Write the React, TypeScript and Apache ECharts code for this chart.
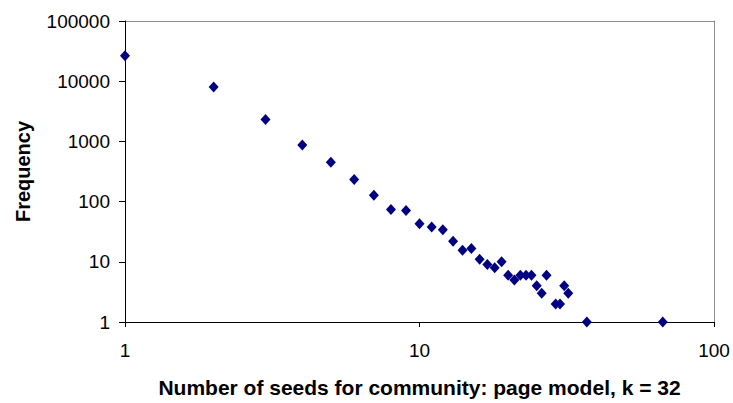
import React, { useEffect, useRef } from "react";
import * as echarts from "echarts";

const seeds = [1, 2, 3, 4, 5, 6, 7, 8, 9, 10, 11, 12, 13, 14, 15, 16, 17, 18, 19, 20, 21, 22, 23, 24, 25, 26, 27, 29, 30, 31, 32, 37, 67];
const frequency = [26500, 8000, 2300, 870, 450, 232, 128, 74, 71, 43, 38, 34, 22, 15.5, 16.7, 11, 9, 8, 10, 6, 5, 6, 6, 6, 4, 3, 6, 2, 2, 4, 3, 1, 1];

const xTitle = "Number of seeds for community: page model, k = 32";
const yTitle = "Frequency";

export default function App() {
  const ref = useRef<HTMLDivElement>(null);
  useEffect(() => {
    const chart = echarts.init(ref.current!, null, { renderer: "svg" });
    const data = seeds.map((s, i) => [s, frequency[i]]);
    const hiddenAxisBase = {
      axisTick: { show: false },
      axisLabel: { show: false },
      splitLine: { show: false },
      axisLine: { show: true, lineStyle: { color: "#8c8c8c", width: 1 } },
    };
    chart.setOption({
      animation: false,
      textStyle: { fontFamily: "Liberation Sans, Arial, sans-serif" },
      grid: { left: 125, right: 19, top: 21, bottom: 78, show: false },
      xAxis: [
        {
          type: "log",
          logBase: 10,
          min: 1,
          max: 100,
          name: xTitle,
          nameLocation: "middle",
          nameGap: 55,
          nameTextStyle: { fontSize: 21, fontWeight: "bold", color: "#000" },
          axisLine: { show: true, lineStyle: { color: "#000", width: 1 } },
          axisTick: { show: true, inside: false, length: 5, lineStyle: { color: "#000" } },
          axisLabel: { fontSize: 19, color: "#000", margin: 19, formatter: (v: number) => String(v) },
          splitLine: { show: false },
          z: 3,
        },
        { type: "log", logBase: 10, min: 1, max: 100, position: "top", ...hiddenAxisBase },
      ],
      yAxis: [
        {
          type: "log",
          logBase: 10,
          min: 1,
          max: 100000,
          name: yTitle,
          nameLocation: "middle",
          nameGap: 92,
          nameRotate: 90,
          nameTextStyle: { fontSize: 20, fontWeight: "bold", color: "#000" },
          axisLine: { show: true, lineStyle: { color: "#000", width: 1 } },
          axisTick: { show: true, inside: false, length: 6, lineStyle: { color: "#000" } },
          axisLabel: { fontSize: 19, color: "#000", margin: 15, formatter: (v: number) => String(v) },
          splitLine: { show: false },
          z: 3,
        },
        { type: "log", logBase: 10, min: 1, max: 100000, position: "right", ...hiddenAxisBase },
      ],
      series: [
        {
          type: "scatter",
          data,
          symbol: "diamond",
          symbolSize: [10, 11],
          itemStyle: { color: "#000080", opacity: 1 },
          z: 5,
        },
      ],
    });
    return () => chart.dispose();
  }, []);
  return <div ref={ref} style={{ width: 733, height: 403, position: "absolute", left: 0, top: 0 }} />;
}
